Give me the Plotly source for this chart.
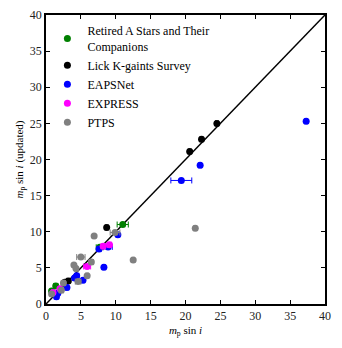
import plotly.graph_objects as go

# Retired A Stars and Their Companions
ras_x = [11.0, 7.7, 1.4, 0.8]
ras_y = [11.0, 7.85, 2.5, 1.8]
ras_xerr = [0.8, 0.5, 0.3, 0.2]

# Lick K-giants Survey
lick_x = [24.5, 22.3, 20.6, 8.7, 3.2, 2.7]
lick_y = [25.0, 22.8, 21.1, 10.6, 3.2, 3.0]
lick_xerr = [0.2, 0.2, 0.2, 0.2, 0.2, 0.2]

# EAPSNet
eaps_x = [37.3, 22.1, 19.4, 10.3, 8.9, 7.6, 8.3, 4.4, 4.1, 5.3, 3.0, 1.7, 1.5]
eaps_y = [25.3, 19.2, 17.1, 9.6, 7.9, 7.6, 5.1, 3.9, 3.6, 3.3, 2.3, 1.5, 1.0]
eaps_xerr = [0.2, 0.2, 1.5, 0.2, 0.6, 0.3, 0.2, 0.3, 0.2, 0.2, 0.2, 0.2, 0.2]

# EXPRESS
expr_x = [9.1, 8.2, 5.9, 2.0, 1.0]
expr_y = [8.2, 8.0, 5.2, 2.1, 1.6]
expr_xerr = [0.3, 0.3, 0.5, 0.2, 0.2]

# PTPS
ptps_x = [21.4, 12.5, 6.9, 9.9, 5.0, 4.0, 4.3, 6.5, 5.9, 4.6, 2.5, 2.2, 0.8]
ptps_y = [10.5, 6.1, 9.4, 9.9, 6.5, 5.4, 4.9, 5.8, 3.9, 3.1, 2.9, 1.9, 1.4]
ptps_xerr = [0.2, 0.2, 0.2, 0.7, 0.6, 0.2, 0.2, 0.3, 0.2, 0.4, 0.3, 0.3, 0.2]

series = [
    ("Retired A Stars and Their<br>Companions", ras_x, ras_y, ras_xerr, "#008000"),
    ("Lick K-gaints Survey", lick_x, lick_y, lick_xerr, "#000000"),
    ("EAPSNet", eaps_x, eaps_y, eaps_xerr, "#0000ff"),
    ("EXPRESS", expr_x, expr_y, expr_xerr, "#ff00ff"),
    ("PTPS", ptps_x, ptps_y, ptps_xerr, "#808080"),
]

fig = go.Figure()

# one-to-one line
fig.add_trace(go.Scatter(x=[0, 40], y=[0, 40], mode="lines",
                         line=dict(color="black", width=1.5), showlegend=False))

for name, xs, ys, xe, col in series:
    fig.add_trace(go.Scatter(
        x=xs, y=ys, mode="markers", name=name,
        marker=dict(color=col, size=7),
        error_x=dict(type="data", array=xe, color=col, thickness=1, width=3),
    ))

axis = dict(range=[0, 40], dtick=5, ticks="inside", ticklen=4, tickwidth=1,
            tickcolor="black", showline=True, linecolor="black", linewidth=1.5,
            mirror="ticks", showgrid=False, zeroline=False, automargin=False,
            tickfont=dict(size=12, color="#222"))

# page body adds an 8px offset, so the figure is sized to fit inside it
fig.update_layout(
    width=326, height=332,
    margin=dict(l=38, r=9, t=7, b=36),
    plot_bgcolor="white", paper_bgcolor="white",
    font=dict(family="Liberation Serif", color="black", size=12),
    xaxis=dict(axis, title=dict(text="<i>m</i><sub>p</sub> sin <i>i</i>",
                                font=dict(size=11), standoff=4)),
    yaxis=dict(axis, title=dict(text="<i>m</i><sub>p</sub> sin <i>i</i> (updated)",
                                font=dict(size=11), standoff=4)),
    legend=dict(x=0.005, y=0.995, xanchor="left", yanchor="top",
                bgcolor="rgba(0,0,0,0)", font=dict(size=12)),
)

fig.write_html("out.html")
